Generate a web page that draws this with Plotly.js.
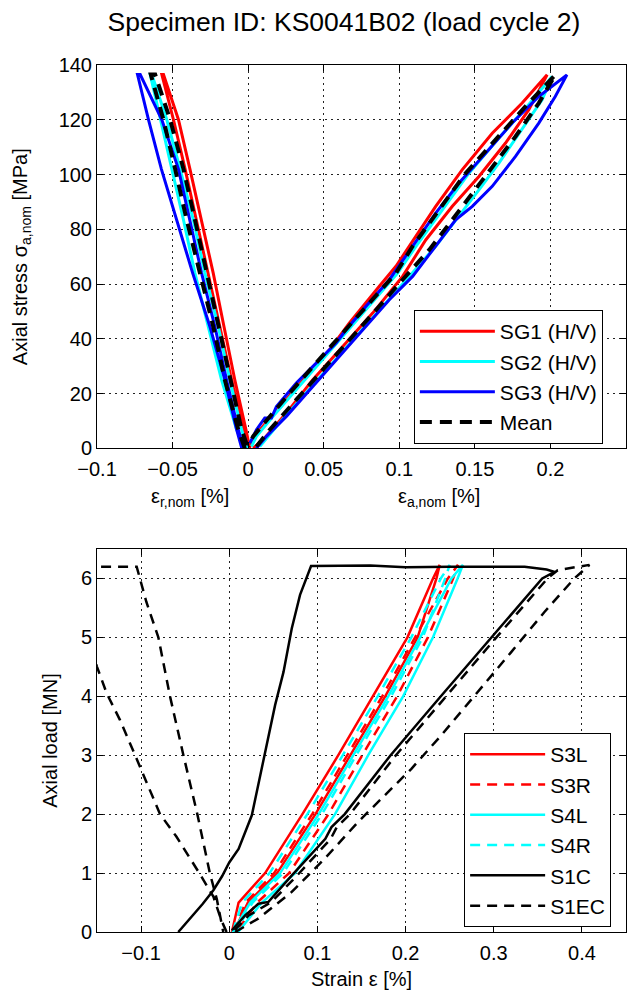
<!DOCTYPE html>
<html>
<head>
<meta charset="utf-8">
<script src="https://cdn.plot.ly/plotly-3.0.1.min.js"></script>
<style>html,body{margin:0;padding:0;background:#fff;}#chart{width:627px;height:990px;}</style>
</head>
<body>
<div id="chart"></div>
<script>
// ---------- Top panel: nominal stress vs strain (radial branch + axial branch) ----------
var radStress = [0, 7, 25, 44.5, 64, 83.5, 102, 120, 136.5];
var sg1RadA = [0.0, -0.0033, -0.0110, -0.0187, -0.0264, -0.0341, -0.0417, -0.0494, -0.0571];
var sg1RadB = [0.0011, -0.0015, -0.0088, -0.0160, -0.0231, -0.0308, -0.0385, -0.0461, -0.0560];
var sg2RadA = [-0.0022, -0.0077, -0.0176, -0.0264, -0.0352, -0.0428, -0.0505, -0.0582, -0.0648];
var sg2RadB = [-0.0007, -0.0044, -0.0121, -0.0198, -0.0286, -0.0363, -0.0450, -0.0538, -0.0637];
var sg3RadA = [-0.0042, -0.0077, -0.0154, -0.0253, -0.0367, -0.0472, -0.0574, -0.0659, -0.0732];
var sg3RadB = [-0.0029, -0.0066, -0.0143, -0.0220, -0.0308, -0.0385, -0.0461, -0.0571, -0.0714];
var meanRadA = [-0.0022, -0.0066, -0.0154, -0.0231, -0.0319, -0.0407, -0.0483, -0.0560, -0.0644];
var meanRadB = [0.0, -0.0044, -0.0121, -0.0198, -0.0275, -0.0352, -0.0428, -0.0516, -0.0615];

var sg1AxUpX = [0.1978, 0.1813, 0.1615, 0.1417, 0.1241, 0.1066, 0.0978, 0.0868, 0.0670, 0.0538, 0.0385, 0.0209, 0.0077, 0.0010];
var sg1AxUpY = [136.4, 126.1, 115.1, 101.8, 88.4, 73.8, 66.5, 59.2, 45.8, 36.0, 26.3, 15.3, 6.8, 0.7];
var sg1AxLoX = [0.0033, 0.0099, 0.0253, 0.0428, 0.0626, 0.0824, 0.1022, 0.1176, 0.1351, 0.1440, 0.1527, 0.1703, 0.1857, 0.1978];
var sg1AxLoY = [0.1, 3.2, 12.9, 25.1, 37.2, 49.4, 62.8, 76.2, 88.4, 94.0, 99.3, 111.5, 123.7, 136.4];

var sg2AxUpX = [0.2011, 0.1846, 0.1648, 0.1461, 0.1285, 0.1110, 0.0989, 0.0802, 0.0626, 0.0472, 0.0297, 0.0165, 0.0055, 0.0022];
var sg2AxUpY = [135.8, 124.9, 112.7, 100.5, 87.1, 73.8, 64.0, 51.9, 40.9, 31.2, 20.2, 11.7, 4.4, 0.7];
var sg2AxLoX = [0.0077, 0.0187, 0.0363, 0.0560, 0.0736, 0.0912, 0.1066, 0.1241, 0.1395, 0.1527, 0.1659, 0.1813, 0.1945, 0.2011];
var sg2AxLoY = [0.7, 8.0, 19.0, 31.2, 42.1, 53.1, 62.8, 73.8, 84.7, 94.4, 104.2, 116.4, 127.3, 135.8];

var sg3AxUpX = [0.2109, 0.1923, 0.1747, 0.1571, 0.1395, 0.1241, 0.1088, 0.0934, 0.0780, 0.0648, 0.0582, 0.0450, 0.0319, 0.0187, 0.0154, 0.0110, 0.0055, 0.0011];
var sg3AxUpY = [136.4, 128.5, 118.8, 107.8, 96.9, 85.9, 73.8, 61.6, 51.9, 43.3, 38.5, 31.2, 23.9, 15.3, 11.1, 11.1, 6.8, 1.9];
var sg3AxLoX = [0.0055, 0.0121, 0.0253, 0.0428, 0.0604, 0.0780, 0.0934, 0.1088, 0.1241, 0.1373, 0.1483, 0.1615, 0.1769, 0.1923, 0.2032, 0.2109];
var sg3AxLoY = [0.1, 4.4, 11.7, 22.6, 33.6, 44.5, 54.3, 62.8, 73.8, 83.5, 88.4, 95.7, 106.6, 118.8, 128.5, 136.4];

var meanAxUpX = [0.2032, 0.1835, 0.1637, 0.1439, 0.1263, 0.1088, 0.0978, 0.0780, 0.0604, 0.0450, 0.0275, 0.0143, 0.0033, 0.0];
var meanAxUpY = [136.4, 124.9, 112.7, 100.5, 87.1, 73.8, 64.0, 51.9, 40.9, 31.2, 20.2, 11.7, 4.4, 0.7];
var meanAxLoX = [0.0055, 0.0143, 0.0319, 0.0516, 0.0692, 0.0868, 0.1022, 0.1198, 0.1351, 0.1483, 0.1615, 0.1769, 0.1923, 0.2032];
var meanAxLoY = [0.7, 6.8, 17.8, 29.9, 40.9, 51.9, 61.6, 72.5, 83.5, 93.2, 103.0, 113.9, 126.1, 136.4];

var topTickVals = [-0.1, -0.05, 0, 0.05, 0.1, 0.15, 0.2];
var topTickText = ['\u22120.1', '\u22120.05', '0', '0.05', '0.1', '0.15', '0.2'];

// ---------- Bottom panel: axial load vs strain ----------
var loopLoads = [0, 0.5, 1, 2, 3, 4, 5, 6, 6.23];
var s3lUp = [0.003, 0.0106, 0.0407, 0.083, 0.1237, 0.1633, 0.2021, 0.2311, 0.2387];
var s3lDn = [0.005, 0.0212, 0.0543, 0.0978, 0.1373, 0.1769, 0.2137, 0.235, 0.2387];
var s3rUp = [0.005, 0.0185, 0.0509, 0.0941, 0.1339, 0.1735, 0.2108, 0.248, 0.2594];
var s3rDn = [0.008, 0.0317, 0.0679, 0.1126, 0.1508, 0.1904, 0.2253, 0.254, 0.2594];
var s4lUp = [0.004, 0.0238, 0.0577, 0.1015, 0.1407, 0.1803, 0.2166, 0.252, 0.265];
var s4lDn = [0.01, 0.037, 0.0747, 0.12, 0.1576, 0.1972, 0.2311, 0.259, 0.265];
var s4rUp = [0.004, 0.0146, 0.0458, 0.0886, 0.1288, 0.1684, 0.2065, 0.24, 0.25];
var s4rDn = [0.007, 0.0264, 0.0611, 0.1052, 0.144, 0.1836, 0.2195, 0.245, 0.25];

var s1cX = [-0.0578, -0.045, -0.03, -0.018, -0.008, 0.0, 0.0106, 0.0256, 0.037, 0.052, 0.0615, 0.0709, 0.0803, 0.0928,
            0.16, 0.2, 0.25, 0.3, 0.335, 0.36, 0.369,
            0.355, 0.297, 0.24, 0.183, 0.131, 0.116, 0.109, 0.071, 0.0445, 0.033, 0.018, 0.003];
var s1cY = [0, 0.22, 0.48, 0.71, 0.95, 1.18, 1.41, 1.98, 2.77, 3.85, 4.41, 5.15, 5.72, 6.21,
            6.22, 6.19, 6.2, 6.2, 6.2, 6.15, 6.11,
            6.0, 5.0, 4.0, 3.0, 2.0, 1.78, 1.58, 0.96, 0.51, 0.48, 0.28, 0.03];

var s1ecRadX = [-0.003, -0.009, -0.018, -0.034, -0.06, -0.0785, -0.1068, -0.124, -0.139, -0.15, -0.165, -0.18, -0.19,
                -0.105, -0.094, -0.0804, -0.0672, -0.052, -0.0362, -0.022, -0.014, -0.0068];
var s1ecRadY = [0, 0.2, 0.6, 1.0, 1.62, 2, 3, 3.6, 4.05, 4.5, 5.2, 5.8, 6.2,
                6.2, 5.6, 5, 4, 3, 2, 1, 0.55, 0];
var s1ecAxX = [0.0068, 0.0332, 0.0709, 0.1086, 0.1463, 0.184, 0.2066, 0.2406, 0.282, 0.3198, 0.3575, 0.3914, 0.4065, 0.4085,
               0.3725, 0.361, 0.303, 0.246, 0.189, 0.137, 0.122, 0.115, 0.077, 0.048, 0.022, 0.006];
var s1ecAxY = [0, 0.23, 0.68, 1.25, 1.87, 2.43, 2.77, 3.34, 4.07, 4.75, 5.43, 6.0, 6.2, 6.23,
               6.14, 6.0, 5.0, 4.0, 3.0, 2.0, 1.78, 1.58, 0.96, 0.51, 0.28, 0.03];

var botTickVals = [-0.1, 0, 0.1, 0.2, 0.3, 0.4];
var botTickText = ['\u22120.1', '0', '0.1', '0.2', '0.3', '0.4'];

// ---------- helpers ----------
function rev(a) { return a.slice().reverse(); }
function topTrace(name, radA, radB, upX, upY, loX, loY, color, width, dash) {
  var x = radA.concat(rev(radB), [null], loX, upX);
  var y = radStress.concat(rev(radStress), [null], loY, upY);
  return {x: x, y: y, xaxis: 'x', yaxis: 'y', type: 'scatter', mode: 'lines', name: name,
          legend: 'legend', connectgaps: false,
          line: {color: color, width: width, dash: dash || 'solid'}};
}
function loopTrace(name, up, dn, color, dash) {
  return {x: up.concat(rev(dn)), y: loopLoads.concat(rev(loopLoads)), xaxis: 'x2', yaxis: 'y2',
          type: 'scatter', mode: 'lines', name: name, legend: 'legend2',
          line: {color: color, width: 2.5, dash: dash || 'solid'}};
}

var dashTop = '12px,8px';
var dashBot = '10px,7px';

var traces = [
  topTrace('SG1 (H/V)', sg1RadA, sg1RadB, sg1AxUpX, sg1AxUpY, sg1AxLoX, sg1AxLoY, '#ff0000', 3),
  topTrace('SG2 (H/V)', sg2RadA, sg2RadB, sg2AxUpX, sg2AxUpY, sg2AxLoX, sg2AxLoY, '#00ffff', 3),
  topTrace('SG3 (H/V)', sg3RadA, sg3RadB, sg3AxUpX, sg3AxUpY, sg3AxLoX, sg3AxLoY, '#0000ff', 3),
  topTrace('Mean', meanRadA, meanRadB, meanAxUpX, meanAxUpY, meanAxLoX, meanAxLoY, '#000000', 4, dashTop),
  loopTrace('S3L', s3lUp, s3lDn, '#ff0000'),
  loopTrace('S3R', s3rUp, s3rDn, '#ff0000', dashBot),
  loopTrace('S4L', s4lUp, s4lDn, '#00ffff'),
  loopTrace('S4R', s4rUp, s4rDn, '#00ffff', dashBot),
  {x: s1cX, y: s1cY, xaxis: 'x2', yaxis: 'y2', type: 'scatter', mode: 'lines', name: 'S1C', legend: 'legend2',
   line: {color: '#000000', width: 2.5}},
  {x: s1ecRadX.concat([null], s1ecAxX), y: s1ecRadY.concat([null], s1ecAxY), xaxis: 'x2', yaxis: 'y2',
   type: 'scatter', mode: 'lines', name: 'S1EC', legend: 'legend2', connectgaps: false,
   line: {color: '#000000', width: 2.5, dash: dashBot}}
];

var axisCommon = {
  ticks: 'inside', ticklen: 6, tickwidth: 1, tickcolor: '#000',
  showline: true, linecolor: '#000', linewidth: 1, mirror: 'ticks',
  showgrid: true, gridcolor: '#222', gridwidth: 1, griddash: '2px,4px',
  zeroline: false, tickfont: {size: 20, color: '#000'}, fixedrange: true
};
function ax(extra) { var o = {}; for (var k in axisCommon) o[k] = axisCommon[k]; for (var k2 in extra) o[k2] = extra[k2]; return o; }

var legendCommon = {bgcolor: '#fff', bordercolor: '#000', borderwidth: 1, font: {size: 21, color: '#000'},
                    xanchor: 'left', yanchor: 'top', tracegroupgap: 0, itemwidth: 75, traceorder: 'normal'};
function lg(extra) { var o = {}; for (var k in legendCommon) o[k] = legendCommon[k]; for (var k2 in extra) o[k2] = extra[k2]; return o; }

var layout = {
  width: 627, height: 990,
  margin: {l: 97, r: 1, t: 65, b: 58},
  paper_bgcolor: '#fff', plot_bgcolor: '#fff',
  font: {family: '"Liberation Sans", Arial, Helvetica, sans-serif', size: 20, color: '#000'},
  showlegend: true,
  title: {text: 'Specimen ID: KS0041B02 (load cycle 2)', font: {size: 26.5, color: '#000'},
          x: 0.5486, xanchor: 'center', y: 0.978, yanchor: 'middle'},
  xaxis: ax({domain: [0, 1], anchor: 'y', range: [-0.1, 0.25], tickmode: 'array', tickvals: topTickVals, ticktext: topTickText,
             ticklabelstandoff: 3}),
  yaxis: ax({domain: [0.5578, 1], anchor: 'x', range: [0, 140], tickmode: 'linear', tick0: 0, dtick: 20,
             title: {text: 'Axial stress \u03c3<sub>a,nom</sub> [MPa]', font: {size: 20}, standoff: 25}}),
  xaxis2: ax({domain: [0, 1], anchor: 'y2', range: [-0.15, 0.45], tickmode: 'array', tickvals: botTickVals, ticktext: botTickText,
              ticklabelstandoff: 3, title: {text: 'Strain \u03b5 [%]', font: {size: 20}}}),
  yaxis2: ax({domain: [0, 0.4418], anchor: 'x2', range: [0, 6.5], tickmode: 'linear', tick0: 0, dtick: 1,
              title: {text: 'Axial load [MN]', font: {size: 20}, standoff: 17}}),
  legend: lg({x: 0.599, y: 0.7174}),
  legend2: lg({x: 0.694, y: 0.2295}),
  annotations: [
    {text: '\u03b5<sub>r,nom</sub> [%]', xref: 'x', yref: 'paper', x: -0.0384, y: 0.5017, showarrow: false,
     xanchor: 'center', yanchor: 'middle', font: {size: 20, color: '#000'}},
    {text: '\u03b5<sub>a,nom</sub> [%]', xref: 'x', yref: 'paper', x: 0.1265, y: 0.5017, showarrow: false,
     xanchor: 'center', yanchor: 'middle', font: {size: 20, color: '#000'}}
  ]
};

Plotly.newPlot('chart', traces, layout, {displayModeBar: false, staticPlot: true});
</script>
</body>
</html>
